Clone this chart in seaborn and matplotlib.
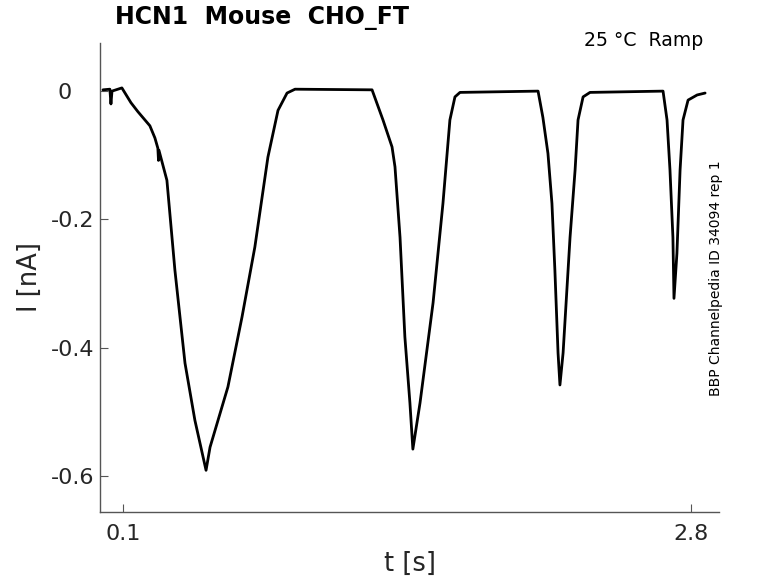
import numpy as np
import pandas as pd
import matplotlib
matplotlib.use("Agg")
import matplotlib.pyplot as plt
import matplotlib.transforms as mtransforms
import seaborn as sns

# Data
t_s = [0.005, 0.038, 0.043, 0.048, 0.095, 0.138, 0.171, 0.228, 0.252, 0.266,
       0.269, 0.271, 0.309, 0.347, 0.395, 0.442, 0.495, 0.514, 0.599, 0.666,
       0.727, 0.789, 0.837, 0.880, 0.918, 1.284, 1.336, 1.379, 1.393, 1.417,
       1.440, 1.464, 1.478, 1.512, 1.574, 1.621, 1.654, 1.678, 1.702, 2.073,
       2.096, 2.120, 2.139, 2.153, 2.168, 2.177, 2.192, 2.225, 2.249, 2.263,
       2.287, 2.320, 2.667, 2.686, 2.700, 2.714, 2.719, 2.733, 2.748, 2.762,
       2.786, 2.829, 2.867]
i_nA = [0.002, 0.003, -0.020, 0.000, 0.005, -0.018, -0.032, -0.054, -0.073, -0.089,
        -0.108, -0.092, -0.139, -0.279, -0.424, -0.513, -0.591, -0.555, -0.461, -0.352,
        -0.243, -0.103, -0.030, -0.003, 0.003, 0.002, -0.045, -0.087, -0.118, -0.228,
        -0.383, -0.486, -0.558, -0.486, -0.330, -0.175, -0.045, -0.009, -0.002, 0.000,
        -0.041, -0.097, -0.175, -0.279, -0.408, -0.458, -0.408, -0.228, -0.123, -0.045,
        -0.009, -0.002, 0.000, -0.045, -0.123, -0.228, -0.323, -0.253, -0.123, -0.045,
        -0.014, -0.006, -0.003]
x_ticks = [0.1, 2.8]
x_ticklabels = ["0.1", "2.8"]
y_ticks = [0, -0.2, -0.4, -0.6]
y_ticklabels = ["0", "-0.2", "-0.4", "-0.6"]

df = pd.DataFrame({"t": t_s, "I": i_nA})

sns.set_style("white")
plt.rcParams["font.family"] = ["DejaVu Sans"]

W, H = 778, 583
fig = plt.figure(figsize=(W / 100, H / 100), dpi=100)
ax = fig.add_axes([100 / W, 1 - 512 / H, 619 / W, 469 / H])

sns.lineplot(data=df, x="t", y="I", ax=ax, color="black", linewidth=2.0,
             sort=False, estimator=None)

ax.set_xlim(-0.009, 2.933)
ax.set_ylim(-0.656, 0.075)
ax.set_xticks(x_ticks)
ax.set_xticklabels(x_ticklabels)
ax.set_yticks(y_ticks)
ax.set_yticklabels(y_ticklabels)

for side in ["top", "right"]:
    ax.spines[side].set_visible(False)
for side in ["left", "bottom"]:
    ax.spines[side].set_visible(True)
    ax.spines[side].set_color("#555555")
    ax.spines[side].set_linewidth(1.0)

ax.tick_params(axis="both", direction="in", length=6, width=0.8,
               left=True, bottom=True,
               color="#555555", labelcolor="#262626", labelsize=16)
ax.tick_params(axis="x", pad=9)
ax.tick_params(axis="y", pad=4)

# the "0" label sits further left in the reference
zero_lbl = ax.get_yticklabels()[0]
zero_lbl.set_transform(zero_lbl.get_transform() +
                       mtransforms.ScaledTranslation(-23 / 100, 0, fig.dpi_scale_trans))

ax.set_xlabel("t [s]", fontsize=18.5, color="#262626", labelpad=5)
ax.set_ylabel("I [nA]", fontsize=18.5, color="#262626", labelpad=6)

fig.text(115 / W, 1 - 18 / H, "HCN1  Mouse  CHO_FT", fontsize=17,
         fontweight="bold", ha="left", va="center", color="black")
fig.text(703 / W, 1 - 41 / H, "25 °C  Ramp", fontsize=13.6,
         ha="right", va="center", color="black")
fig.text(716 / W, 1 - 278 / H, "BBP Channelpedia ID 34094 rep 1", fontsize=10,
         rotation=90, ha="center", va="center", color="black")

fig.savefig("out.png", dpi=100, facecolor="white")
